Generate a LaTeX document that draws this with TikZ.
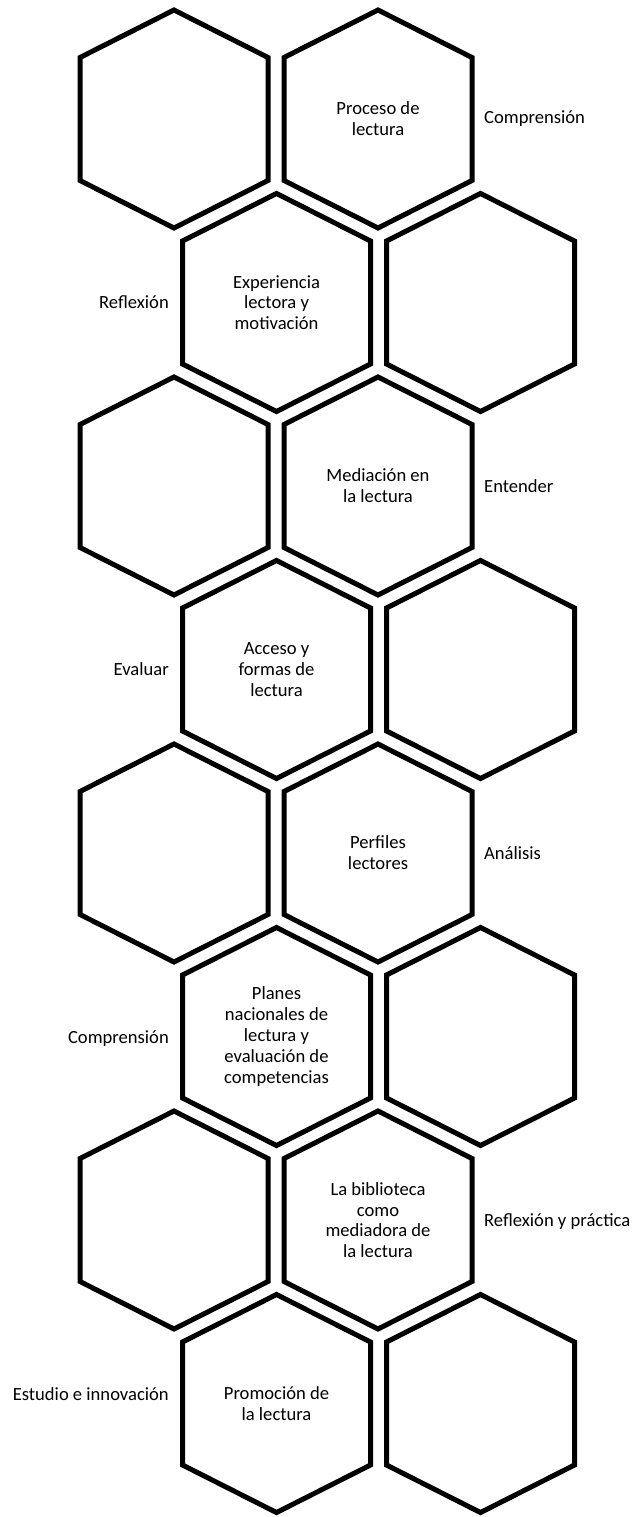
\documentclass[tikz,border=0pt]{standalone}
\usepackage{fontspec}
\setmainfont{Carlito}
\tikzset{
  hexline/.style={line width=5pt, line join=miter},
  celltext/.style={align=center, font=\fontsize{18.6}{20.8}\selectfont, inner sep=0pt},
  sidetext/.style={font=\fontsize{18.6}{20.8}\selectfont, inner sep=0pt}
}
\newcommand\hexcell[4]{%
  \node[celltext] (#1) at (#2,#3) {#4};
  \draw[hexline, shift={(#1.center)}] (0,-109) -- (94,-61.5) -- (94,61.5) -- (0,109) -- (-94,61.5) -- (-94,-61.5) -- cycle;
}
\begin{document}
\begin{tikzpicture}[x=1pt,y=-1pt]
\useasboundingbox (0,0) rectangle (635,1517);
% row 1
\hexcell{a1}{174}{119}{}
\hexcell{b1}{378}{119}{Proceso de\\lectura}
\node[sidetext, anchor=west] (s1) at (484,119) {Comprensión};
% row 2
\hexcell{a2}{276.5}{302.5}{Experiencia\\lectora y\\motivación}
\hexcell{b2}{480.5}{302.5}{}
\node[sidetext, anchor=east] (s2) at (169,302.5) {Reflexión};
% row 3
\hexcell{a3}{174}{486}{}
\hexcell{b3}{378}{486}{Mediación en\\la lectura}
\node[sidetext, anchor=west] (s3) at (484,486) {Entender};
% row 4
\hexcell{a4}{276.5}{669.5}{Acceso y\\formas de\\lectura}
\hexcell{b4}{480.5}{669.5}{}
\node[sidetext, anchor=east] (s4) at (169,669.5) {Evaluar};
% row 5
\hexcell{a5}{174}{853}{}
\hexcell{b5}{378}{853}{Perfiles\\lectores}
\node[sidetext, anchor=west] (s5) at (484,853) {Análisis};
% row 6
\hexcell{a6}{276.5}{1036.5}{Planes\\nacionales de\\lectura y\\evaluación de\\competencias}
\hexcell{b6}{480.5}{1036.5}{}
\node[sidetext, anchor=east] (s6) at (169,1039) {Comprensión};
% row 7
\hexcell{a7}{174}{1220}{}
\hexcell{b7}{378}{1220}{La biblioteca\\como\\mediadora de\\la lectura}
\node[sidetext, anchor=west] (s7) at (484,1222) {Reflexión y práctica};
% row 8
\hexcell{a8}{276.5}{1403.5}{Promoción de\\la lectura}
\hexcell{b8}{480.5}{1403.5}{}
\node[sidetext, anchor=east] (s8) at (169,1394) {Estudio e innovación};
\end{tikzpicture}
\end{document}
